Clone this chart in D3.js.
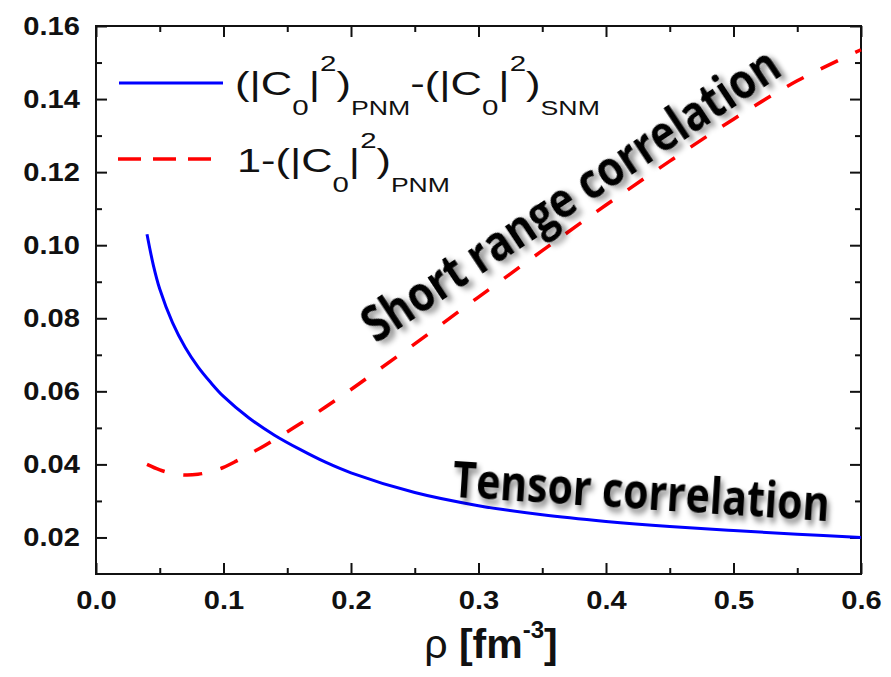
<!DOCTYPE html>
<html>
<head>
<meta charset="utf-8">
<script src="https://cdn.jsdelivr.net/npm/d3@7"></script>
<style>
  html, body { margin: 0; padding: 0; background: #fff; }
  svg { display: block; }
</style>
</head>
<body>
<svg id="chart" width="891" height="677"></svg>
<script>
// ---- data ----
const rhoBlue = [0.04, 0.045, 0.05, 0.06, 0.07, 0.08, 0.09, 0.10, 0.12, 0.14, 0.16, 0.18, 0.20, 0.25, 0.30, 0.35, 0.40, 0.45, 0.50, 0.55, 0.60];
const tensorVals = [0.103, 0.0945, 0.0880, 0.0788, 0.0720, 0.0667, 0.0624, 0.0586, 0.0527, 0.0480, 0.0441, 0.0406, 0.0377, 0.0323, 0.0287, 0.0262, 0.0244, 0.0230, 0.0219, 0.0209, 0.0200];
const rhoRed = [0.04, 0.05, 0.06, 0.07, 0.08, 0.09, 0.10, 0.11, 0.12, 0.13, 0.14, 0.16, 0.18, 0.20, 0.22, 0.25, 0.30, 0.35, 0.40, 0.45, 0.50, 0.55, 0.60];
const srcVals = [0.0400, 0.0385, 0.0375, 0.0371, 0.0373, 0.0380, 0.0392, 0.0409, 0.0428, 0.0447, 0.0468, 0.0511, 0.0557, 0.0605, 0.0655, 0.0730, 0.0858, 0.0985, 0.1110, 0.1230, 0.1345, 0.1450, 0.1535];
const xMajorTicks = [0.0, 0.1, 0.2, 0.3, 0.4, 0.5, 0.6];
const xMinorTicks = [0.05, 0.15, 0.25, 0.35, 0.45, 0.55];
const yMajorTicks = [0.02, 0.04, 0.06, 0.08, 0.10, 0.12, 0.14, 0.16];
const yMinorTicks = [0.03, 0.05, 0.07, 0.09, 0.11, 0.13, 0.15];
const xDomain = [0, 0.6];
const yDomain = [0.01, 0.16];
const annotations = ["Short range correlation", "Tensor correlation"];

// ---- layout ----
const svg = d3.select("#chart");
const L = 96, R = 861, T = 26, B = 574;
const x = d3.scaleLinear().domain(xDomain).range([L, R]);
const y = d3.scaleLinear().domain(yDomain).range([B, T]);

const defs = svg.append("defs");
const f = defs.append("filter").attr("id", "shadow").attr("x", "-10%").attr("y", "-30%").attr("width", "130%").attr("height", "180%");
f.append("feDropShadow").attr("dx", 3).attr("dy", 4).attr("stdDeviation", 2.5)
  .attr("flood-color", "#000").attr("flood-opacity", 0.45);

const tickFont = "'Liberation Sans', Arial, sans-serif";
const labScale = 1.12;

// bottom axis
const gB = svg.append("g").attr("transform", `translate(0,${B})`)
  .call(d3.axisBottom(x).tickValues(xMajorTicks).tickFormat(d3.format(".1f")).tickSizeInner(-11).tickSizeOuter(0).tickPadding(16.5));
gB.append("g").call(d3.axisBottom(x).tickValues(xMinorTicks).tickFormat("").tickSizeInner(-6).tickSizeOuter(0));
// left axis
const gL = svg.append("g").attr("transform", `translate(${L},0)`)
  .call(d3.axisLeft(y).tickValues(yMajorTicks).tickFormat(d3.format(".2f")).tickSizeInner(-11).tickSizeOuter(0).tickPadding(16));
gL.append("g").call(d3.axisLeft(y).tickValues(yMinorTicks).tickFormat("").tickSizeInner(-6).tickSizeOuter(0));
// top axis
const gT = svg.append("g").attr("transform", `translate(0,${T})`)
  .call(d3.axisTop(x).tickValues(xMajorTicks).tickFormat("").tickSizeInner(-11).tickSizeOuter(0));
gT.append("g").call(d3.axisTop(x).tickValues(xMinorTicks).tickFormat("").tickSizeInner(-6).tickSizeOuter(0));
// right axis
const gR = svg.append("g").attr("transform", `translate(${R},0)`)
  .call(d3.axisRight(y).tickValues(yMajorTicks).tickFormat("").tickSizeInner(-11).tickSizeOuter(0));
gR.append("g").call(d3.axisRight(y).tickValues(yMinorTicks).tickFormat("").tickSizeInner(-6).tickSizeOuter(0));

svg.selectAll(".domain").remove();
svg.selectAll(".tick line").attr("stroke", "#111").attr("stroke-width", 2);
svg.selectAll(".tick text").attr("font-family", tickFont).attr("font-weight", "bold")
  .attr("font-size", 26).attr("fill", "#111");
gB.selectAll(".tick text").attr("transform", `scale(${labScale},1)`);
gL.selectAll(".tick text").each(function() {
  const t = d3.select(this);
  const xv = +t.attr("x");
  t.attr("x", xv / labScale).attr("transform", `scale(${labScale},1)`);
});

// frame
svg.append("rect").attr("x", L).attr("y", T).attr("width", R - L).attr("height", B - T)
  .attr("fill", "none").attr("stroke", "#111").attr("stroke-width", 2);

// curves
const line = d3.line().x(d => x(d[0])).y(d => y(d[1])).curve(d3.curveCatmullRom.alpha(0.5));
svg.append("path").datum(rhoBlue.map((r, i) => [r, tensorVals[i]]))
  .attr("d", line).attr("fill", "none").attr("stroke", "#0000ff").attr("stroke-width", 3);
svg.append("path").datum(rhoRed.map((r, i) => [r, srcVals[i]]))
  .attr("d", line).attr("fill", "none").attr("stroke", "#ff0000").attr("stroke-width", 3.5)
  .attr("stroke-dasharray", "19,19");

// legend
svg.append("line").attr("x1", 119).attr("x2", 223).attr("y1", 83).attr("y2", 83)
  .attr("stroke", "#0000ff").attr("stroke-width", 3);
svg.append("line").attr("x1", 118).attr("x2", 211).attr("y1", 159).attr("y2", 159)
  .attr("stroke", "#ff0000").attr("stroke-width", 3.5).attr("stroke-dasharray", "23,12");

function legendText(parts, x0, base, targetW) {
  const g = svg.append("g").attr("transform", `translate(${x0},${base})`);
  const t = g.append("text").attr("font-family", tickFont).attr("fill", "#111").attr("x", 0).attr("y", 0);
  let cur = 0;
  parts.forEach(p => {
    const off = p[2] || 0;
    t.append("tspan").attr("font-size", p[1]).attr("dy", off - cur).text(p[0]);
    cur = off;
  });
  const w = t.node().getComputedTextLength();
  t.attr("transform", `scale(${targetW / w},1.05)`);
}
legendText([["(|C", 31], ["0", 21, 19], ["|", 31], ["2", 21, -23], [")", 31], ["PNM", 19, 19],
            ["-(|C", 31], ["0", 21, 19], ["|", 31], ["2", 21, -23], [")", 31], ["SNM", 19, 19]], 235, 95, 365);
legendText([["1-(|C", 31], ["0", 21, 19], ["|", 31], ["2", 21, -23], [")", 31], ["PNM", 19, 19]], 237, 172, 213);

// x axis title
const title = svg.append("text").attr("x", 491).attr("y", 658).attr("text-anchor", "middle")
  .attr("font-family", tickFont).attr("font-size", 41).attr("fill", "#111");
title.append("tspan").attr("font-weight", "normal").text("ρ ");
title.append("tspan").attr("font-weight", "bold").text("[fm");
title.append("tspan").attr("font-weight", "bold").attr("font-size", 24).attr("dy", -20).text("-3");
title.append("tspan").attr("font-weight", "bold").attr("dy", 20).text("]");

// annotations
const annFont = "'Open Sans', 'Noto Sans', sans-serif";
svg.append("g").attr("transform", "translate(580,209) rotate(-33.5)")
  .append("text").attr("text-anchor", "middle").attr("font-family", annFont).attr("font-weight", "bold")
  .attr("font-size", 42).attr("fill", "#000").attr("filter", "url(#shadow)")
  .attr("transform", "scale(1,1.2)").text(annotations[0]);
svg.append("g").attr("transform", "translate(640,509) rotate(3.7)")
  .append("text").attr("text-anchor", "middle").attr("font-family", annFont).attr("font-weight", "bold")
  .attr("font-size", 41).attr("fill", "#000").attr("filter", "url(#shadow)")
  .attr("transform", "scale(1,1.22)").text(annotations[1]);
</script>
</body>
</html>
